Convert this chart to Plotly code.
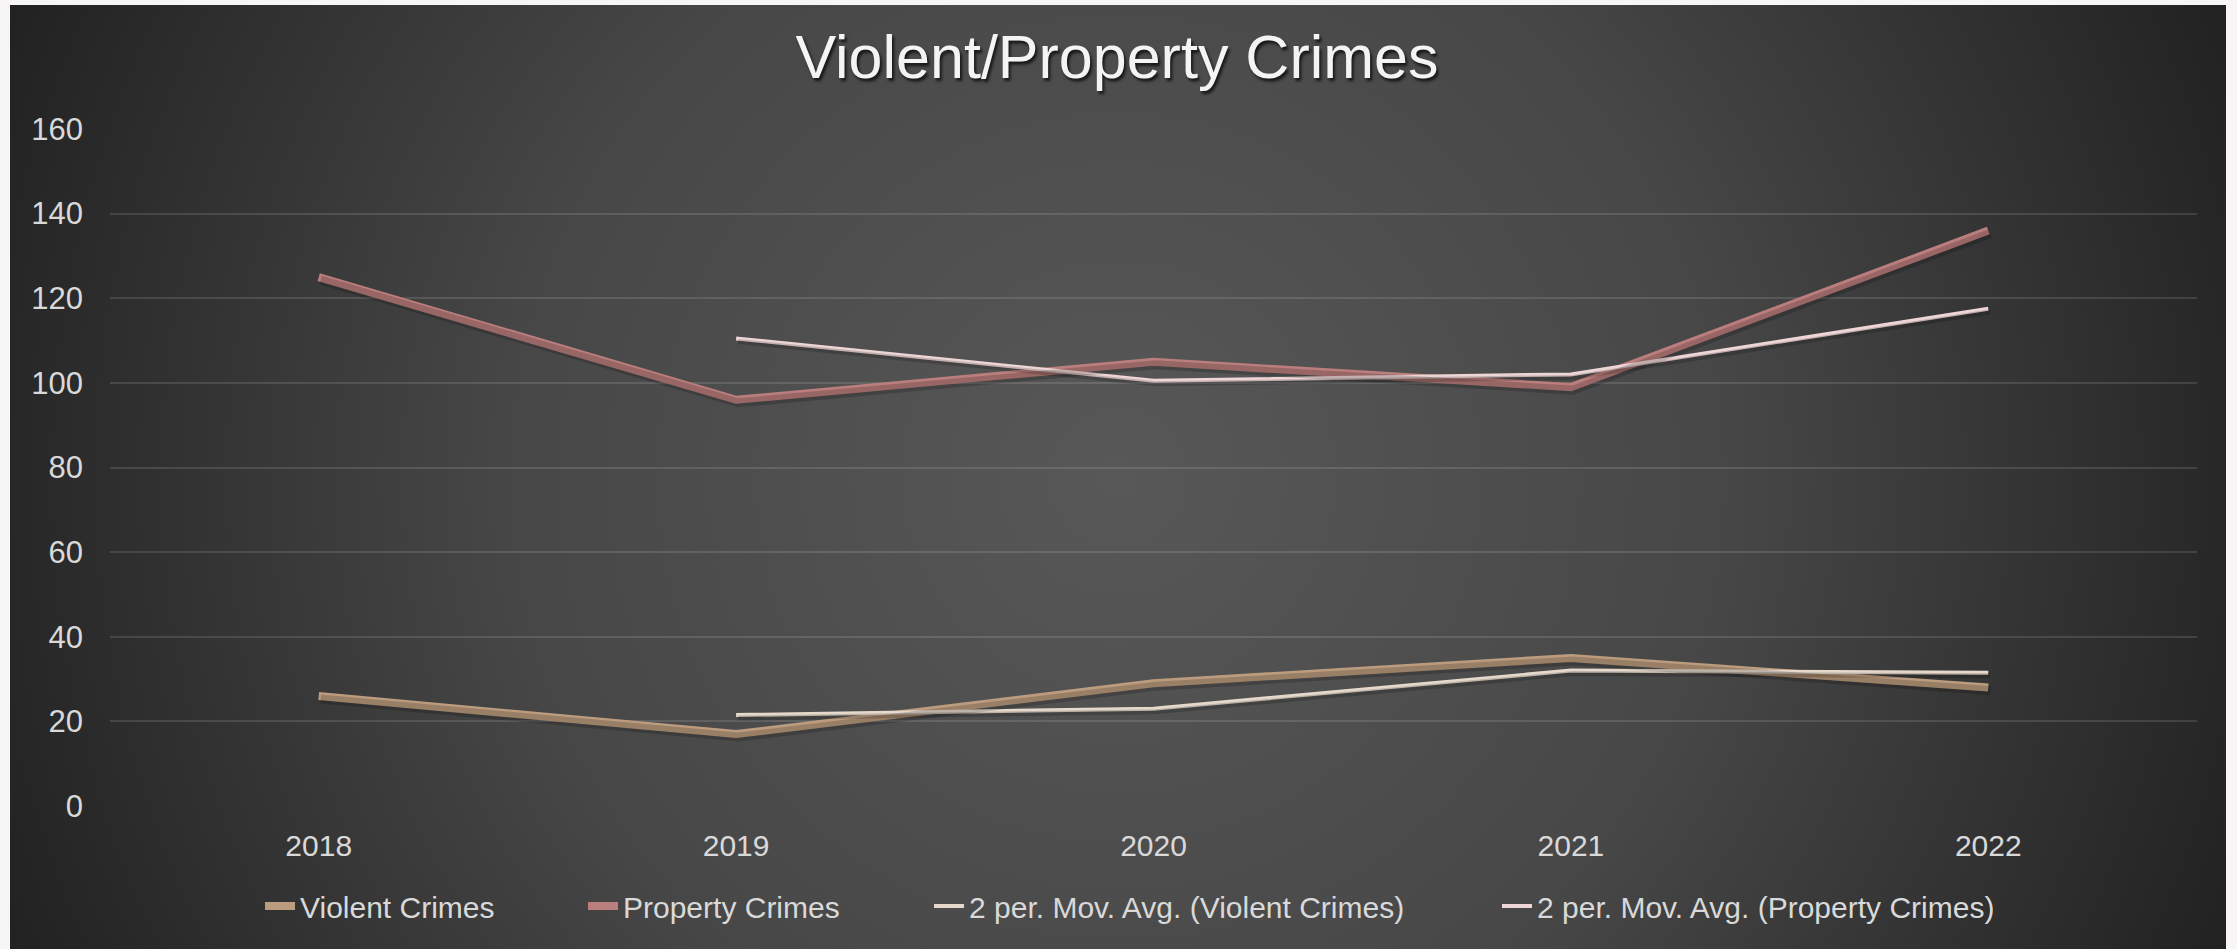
import base64
import plotly.graph_objects as go

# ---- data ----
years = ["2018", "2019", "2020", "2021", "2022"]
violent = [26, 17, 29, 35, 28]
property_crimes = [125, 96, 105, 99, 136]
mavg_violent = [None, 21.5, 23, 32, 31.5]
mavg_property = [None, 110.5, 100.5, 102, 117.5]
y_ticks = [0, 20, 40, 60, 80, 100, 120, 140, 160]

# ---- geometry (pixels) ----
W, H = 2237, 949
L, R, T, B = 110, 40, 129, 143
pw, ph = W - L - R, H - T - B

def px_x(px):
    return (px - L) / pw

def px_y(py):
    return (H - B - py) / ph

# dark panel with radial gradient
rx0, ry0, rx1, ry1 = 10, 5, 2226, 949
rw, rh = rx1 - rx0, ry1 - ry0
svg = f'''<svg xmlns="http://www.w3.org/2000/svg" width="{rw}" height="{rh}" viewBox="0 0 {rw} {rh}" preserveAspectRatio="none">
<defs><radialGradient id="g" gradientUnits="userSpaceOnUse" cx="{rw/2}" cy="{rh/2}" r="1210">
<stop offset="0" stop-color="#585858"/><stop offset="0.5" stop-color="#474747"/><stop offset="1" stop-color="#212121"/>
</radialGradient></defs>
<rect x="0" y="0" width="{rw}" height="{rh}" fill="url(#g)"/></svg>'''
src = "data:image/svg+xml;base64," + base64.b64encode(svg.encode()).decode()

TXT = "#d9d9d9"
FONT = "Liberation Sans, Arial, sans-serif"

fig = go.Figure()

series = [
    ("Violent Crimes", violent, "#BC9C7E", 8, "legend", 300),
    ("Property Crimes", property_crimes, "#BA7E7C", 8, "legend2", 623),
    ("2 per. Mov. Avg. (Violent Crimes)", mavg_violent, "#E6D9CC", 4, "legend3", 969),
    ("2 per. Mov. Avg. (Property Crimes)", mavg_property, "#EDD6D5", 4, "legend4", 1537),
]

# soft shadows (drawn on offset overlay axes)
for name, vals, col, w, lg, tx in series:
    fig.add_trace(go.Scatter(x=years, y=vals, mode="lines", xaxis="x2", yaxis="y2",
                             line=dict(color="rgba(0,0,0,0.18)", width=w + 1),
                             showlegend=False, hoverinfo="skip", connectgaps=False))

for name, vals, col, w, lg, tx in series:
    fig.add_trace(go.Scatter(x=years, y=vals, mode="lines", name=name, legend=lg,
                             line=dict(color=col, width=w), connectgaps=False))

dx = 2 / (pw / 5)
dy = 3 / (ph / 160)

legends = {}
for name, vals, col, w, lg, tx in series:
    legends[lg] = dict(orientation="h", x=px_x(tx - 40), xanchor="left", y=px_y(906),
                       yanchor="middle", font=dict(family=FONT, size=30, color=TXT),
                       bgcolor="rgba(0,0,0,0)", itemwidth=30)

fig.update_layout(
    width=W, height=H,
    margin=dict(l=L, r=R, t=T, b=B),
    paper_bgcolor="#f7f5f5",
    plot_bgcolor="rgba(0,0,0,0)",
    images=[dict(source=src, xref="paper", yref="paper",
                 x=px_x(rx0), y=px_y(ry0), sizex=rw / pw, sizey=rh / ph,
                 xanchor="left", yanchor="top", sizing="stretch", layer="below")],
    title=dict(text="Violent/Property Crimes", x=1117 / W, xref="container",
               y=1 - 57 / H, yref="container", xanchor="center", yanchor="middle",
               font=dict(family=FONT, size=61, color="#f4f4f4",
                         shadow="2px 3px 3px rgba(0,0,0,0.7)")),
    xaxis=dict(type="category", range=[-0.5, 4.5], showgrid=False, zeroline=False,
               showline=False, ticks="", tickfont=dict(family=FONT, size=30, color=TXT),
               ticklabelstandoff=19),
    yaxis=dict(range=[0, 160], tickvals=y_ticks, showgrid=True,
               gridcolor="rgba(255,255,255,0.12)", gridwidth=2, zeroline=False,
               showline=False, ticks="", tickfont=dict(family=FONT, size=31, color=TXT),
               ticklabelstandoff=26),
    xaxis2=dict(type="category", overlaying="x", range=[-0.5 - dx, 4.5 - dx], visible=False),
    yaxis2=dict(overlaying="y", range=[dy, 160 + dy], visible=False),
    showlegend=True,
    **legends,
)

fig.write_html("out.html")
